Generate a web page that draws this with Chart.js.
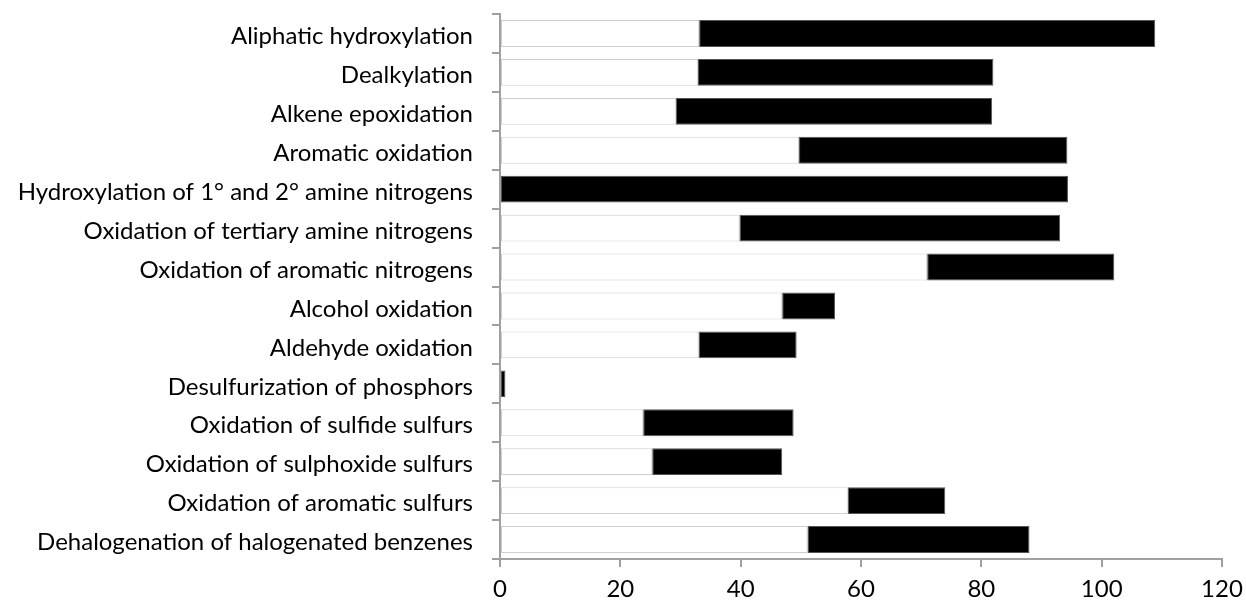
<!DOCTYPE html>
<html>
<head>
<meta charset="utf-8">
<script src="https://cdn.jsdelivr.net/npm/chart.js@4/dist/chart.umd.min.js"></script>
<style>
  html, body { margin: 0; padding: 0; background: #fff; }
  #wrap { width: 1246px; height: 603px; position: relative; }
</style>
</head>
<body>
<div id="wrap"><canvas id="chart"></canvas></div>
<script>
// Reaction classes, top to bottom
const categories = [
  'Aliphatic hydroxylation',
  'Dealkylation',
  'Alkene epoxidation',
  'Aromatic oxidation',
  'Hydroxylation of 1° and 2° amine nitrogens',
  'Oxidation of tertiary amine nitrogens',
  'Oxidation of aromatic nitrogens',
  'Alcohol oxidation',
  'Aldehyde oxidation',
  'Desulfurization of phosphors',
  'Oxidation of sulfide sulfurs',
  'Oxidation of sulphoxide sulfurs',
  'Oxidation of aromatic sulfurs',
  'Dehalogenation of halogenated benzenes'
];

// where the black range starts (white part runs 0 -> start)
const rangeStart = [33.1, 32.9, 29.2, 49.7, 0, 39.8, 71.0, 46.9, 33.0, 0, 23.8, 25.3, 57.8, 51.1];
// where the black range ends
const rangeEnd = [108.9, 82.0, 81.8, 94.3, 94.4, 93.1, 102.1, 55.7, 49.3, 0.9, 48.8, 46.9, 74.0, 88.0];

const xTicks = [0, 20, 40, 60, 80, 100, 120];

const FONT = 'Lato, "Open Sans", sans-serif';
const AXIS_GREY = '#a0a0a0';

const whiteBars = rangeStart.map(v => [0, v]);
const blackBars = rangeStart.map((v, i) => [v, rangeEnd[i]]);

new Chart(document.getElementById('chart'), {
  type: 'bar',
  data: {
    labels: categories,
    datasets: [
      {
        label: 'start',
        data: whiteBars,
        backgroundColor: '#ffffff',
        borderColor: '#cfcfcf',
        borderWidth: 1,
        borderSkipped: false,
        grouped: false,
        barPercentage: 0.69,
        categoryPercentage: 1.0
      },
      {
        label: 'range',
        data: blackBars,
        backgroundColor: '#000000',
        borderColor: '#555555',
        borderWidth: 1,
        borderSkipped: false,
        grouped: false,
        barPercentage: 0.69,
        categoryPercentage: 1.0
      }
    ]
  },
  options: {
    indexAxis: 'y',
    responsive: true,
    maintainAspectRatio: false,
    animation: false,
    layout: { padding: { top: 14, right: 24, bottom: 0, left: 0 } },
    plugins: {
      legend: { display: false },
      tooltip: { enabled: false }
    },
    scales: {
      x: {
        min: 0,
        max: 120,
        afterBuildTicks: scale => { scale.ticks = xTicks.map(v => ({ value: v })); },
        afterFit: scale => {
          scale.height = 44;
          scale.paddingLeft = 0;
          scale.paddingRight = 0;
        },
        border: { color: AXIS_GREY, width: 2 },
        grid: { drawOnChartArea: false, drawTicks: true, tickLength: 8, color: AXIS_GREY, lineWidth: 2 },
        ticks: { color: '#000', font: { family: FONT, size: 24 }, padding: 8, maxRotation: 0 }
      },
      y: {
        afterFit: scale => {
          scale.width = 500;
          scale.paddingTop = 0;
          scale.paddingBottom = 0;
        },
        border: { color: AXIS_GREY, width: 2 },
        grid: { drawOnChartArea: false, drawTicks: true, tickLength: 8, color: AXIS_GREY, lineWidth: 2, offset: true },
        ticks: { color: '#000', font: { family: FONT, size: 24 }, padding: 19, labelOffset: 3, autoSkip: false }
      }
    }
  }
});
</script>
</body>
</html>
